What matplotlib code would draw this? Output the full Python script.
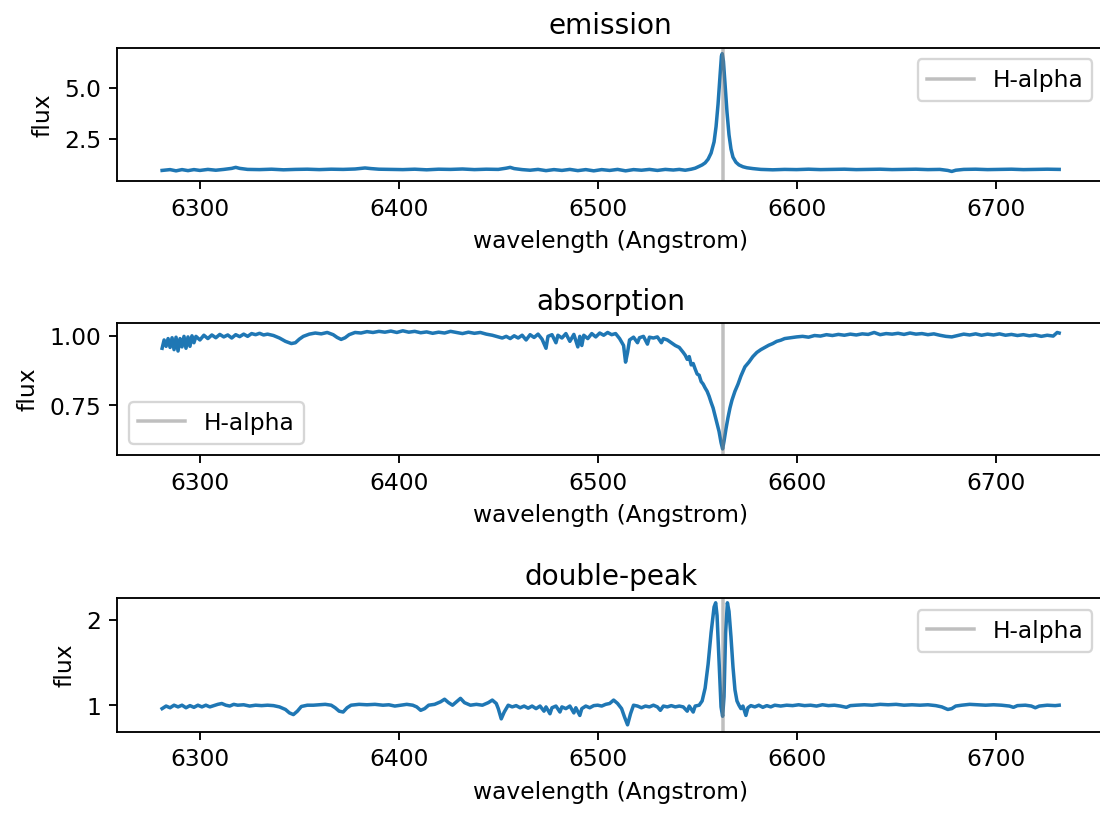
import numpy as np
import matplotlib
matplotlib.use("Agg")
import matplotlib.pyplot as plt

# H-alpha rest wavelength
halpha = 6562.8

# emission spectrum (wavelength in Angstrom, normalised flux)
wave_em = [6281, 6285, 6288, 6291, 6294, 6297, 6300, 6304, 6308, 6312, 6316, 6318, 6320, 6324,
           6330, 6336, 6342, 6348, 6354, 6360, 6366, 6372, 6378, 6383, 6386, 6390, 6396, 6402,
           6408, 6414, 6420, 6426, 6432, 6438, 6444, 6450, 6454, 6456, 6458, 6462, 6466, 6470,
           6474, 6478, 6482, 6486, 6490, 6494, 6498, 6502, 6506, 6510, 6514, 6518, 6522, 6526,
           6530, 6534, 6538, 6541, 6544, 6547, 6549, 6551, 6552.5, 6554, 6555.5, 6557, 6558.5,
           6559.5, 6560.5, 6561.5, 6562.2, 6562.6, 6563.2, 6564, 6565, 6566, 6567, 6568, 6569.5,
           6571, 6573, 6575, 6578, 6582, 6588, 6594, 6600, 6606, 6612, 6618, 6624, 6630, 6636,
           6642, 6648, 6654, 6660, 6666, 6672, 6676, 6678, 6680, 6684, 6690, 6696, 6702, 6708,
           6714, 6720, 6726, 6732]
flux_em = [0.95, 0.99, 0.93, 0.99, 0.94, 0.99, 0.95, 1.00, 0.96, 1.00, 1.05, 1.10, 1.05, 1.00,
           0.99, 1.01, 0.98, 1.00, 1.01, 0.99, 1.01, 1.00, 1.02, 1.07, 1.04, 1.01, 1.00, 0.99,
           1.01, 0.98, 1.01, 1.00, 1.02, 0.99, 1.01, 1.00, 1.06, 1.10, 1.04, 0.99, 0.96, 1.00,
           0.94, 0.99, 0.95, 1.00, 0.94, 0.99, 0.93, 0.99, 0.95, 1.00, 0.93, 0.99, 0.96, 1.00,
           0.95, 1.00, 0.97, 1.00, 0.96, 1.01, 1.06, 1.15, 1.22, 1.32, 1.50, 1.80, 2.35,
           3.10, 4.20, 5.60, 6.55, 6.67, 6.30, 5.20, 3.80, 2.70, 2.00, 1.60, 1.35,
           1.22, 1.13, 1.08, 1.04, 1.00, 0.98, 1.00, 0.99, 1.01, 0.99, 1.00, 1.01, 0.99, 1.00,
           1.01, 0.99, 1.00, 1.01, 0.99, 1.00, 0.95, 0.90, 0.96, 1.00, 1.01, 0.99, 1.00, 1.01,
           0.99, 1.00, 1.01, 1.00]

# absorption spectrum
wave_abs = [6281, 6282, 6283, 6284, 6285, 6286, 6287, 6288, 6289, 6290, 6291, 6292, 6293, 6294,
            6295, 6296, 6297, 6298, 6300, 6302, 6304, 6306, 6308, 6310, 6312, 6314, 6316, 6318,
            6320, 6322, 6324, 6326, 6328, 6330, 6332, 6334, 6337, 6340, 6343, 6346, 6348, 6350,
            6352, 6355, 6358, 6361, 6364, 6367, 6369, 6371, 6373, 6375, 6378, 6381, 6384, 6387,
            6390, 6393, 6396, 6399, 6402, 6405, 6408, 6411, 6414, 6417, 6420, 6423, 6426, 6429,
            6432, 6435, 6438, 6441, 6444, 6447, 6450, 6452, 6454, 6456, 6458, 6460, 6462, 6464,
            6466, 6468, 6470, 6472, 6474, 6475, 6477, 6479, 6480, 6482, 6484, 6486, 6488, 6490,
            6491, 6492, 6493, 6495, 6497, 6499, 6501, 6503, 6505, 6507, 6509, 6511, 6513, 6514,
            6515, 6516, 6518, 6520, 6521, 6523, 6525, 6526, 6528, 6530, 6532, 6533, 6535, 6537,
            6539, 6541, 6543, 6544, 6545, 6546, 6547, 6548, 6549, 6550, 6551, 6552, 6553, 6554,
            6555, 6556, 6557, 6558, 6559, 6560, 6561, 6562, 6562.8, 6563.5, 6564.5, 6565.5,
            6566.5, 6567.5, 6569, 6570.5, 6572, 6573, 6574, 6576, 6578, 6580, 6582, 6584, 6586,
            6588, 6590, 6592, 6594, 6597, 6600, 6603, 6606, 6609, 6612, 6615, 6618, 6621, 6624,
            6627, 6630, 6633, 6636, 6639, 6642, 6645, 6648, 6651, 6654, 6657, 6660, 6663, 6666,
            6669, 6672, 6675, 6678, 6681, 6684, 6687, 6690, 6693, 6696, 6699, 6702, 6705, 6708,
            6711, 6714, 6717, 6720, 6723, 6726, 6729, 6731, 6732]
flux_abs = [0.955, 0.985, 0.962, 0.990, 0.958, 0.993, 0.950, 0.995, 0.945, 0.990, 0.960, 0.998,
            0.955, 0.996, 0.962, 1.000, 0.975, 0.998, 0.985, 1.002, 0.990, 1.003, 0.993, 1.005,
            0.996, 1.003, 0.992, 1.004, 0.997, 1.006, 0.998, 1.008, 1.004, 1.009, 1.003, 1.006,
            1.001, 0.992, 0.980, 0.972, 0.975, 0.988, 0.998, 1.006, 1.010, 1.007, 1.012, 1.004,
            0.994, 0.987, 0.993, 1.004, 1.012, 1.010, 1.015, 1.012, 1.016, 1.013, 1.017, 1.012,
            1.018, 1.013, 1.016, 1.011, 1.014, 1.009, 1.013, 1.010, 1.016, 1.012, 1.008, 1.013,
            1.009, 1.012, 1.006, 1.002, 0.996, 0.992, 0.998, 0.990, 1.000, 0.992, 1.002, 0.985,
            1.004, 0.994, 1.006, 0.988, 0.955, 0.998, 1.004, 0.975, 1.002, 0.992, 1.008, 0.980,
            1.005, 0.960, 0.998, 0.965, 1.002, 0.990, 1.008, 0.996, 1.010, 1.002, 1.012, 1.004,
            1.008, 0.990, 0.965, 0.905, 0.940, 0.985, 0.995, 0.975, 0.993, 0.998, 0.970, 0.995,
            0.992, 0.996, 0.975, 0.990, 0.985, 0.975, 0.965, 0.958, 0.940, 0.930, 0.915, 0.925,
            0.895, 0.900, 0.880, 0.862, 0.858, 0.835, 0.826, 0.812, 0.800, 0.782, 0.760, 0.740,
            0.712, 0.685, 0.655, 0.615, 0.592, 0.620, 0.665, 0.705, 0.740, 0.768, 0.800, 0.825,
            0.855, 0.872, 0.888, 0.905, 0.925, 0.940, 0.950, 0.958, 0.966, 0.972, 0.980, 0.984,
            0.990, 0.993, 0.996, 0.998, 0.995, 1.001, 0.999, 1.004, 1.001, 1.005, 1.002, 1.006,
            1.003, 1.007, 1.005, 1.012, 1.004, 1.008, 1.006, 1.009, 1.005, 1.010, 1.006, 1.008,
            1.004, 1.007, 1.002, 0.998, 0.996, 1.001, 1.006, 1.003, 1.007, 1.002, 1.006, 1.003,
            1.007, 1.002, 1.005, 1.001, 1.004, 1.000, 1.003, 0.998, 1.002, 0.999, 1.012, 1.010]

# double-peak spectrum
wave_dp = [6281, 6283, 6285, 6287, 6289, 6291, 6293, 6295, 6297, 6299, 6301, 6303, 6305, 6307,
           6309, 6311, 6313, 6315, 6317, 6319, 6322, 6325, 6328, 6331, 6334, 6337, 6340, 6343,
           6345, 6347, 6349, 6351, 6354, 6357, 6360, 6363, 6366, 6368, 6370, 6372, 6374, 6376,
           6380, 6384, 6388, 6392, 6395, 6398, 6401, 6404, 6407, 6409, 6411, 6413, 6415, 6418,
           6421, 6423, 6425, 6427, 6429, 6431, 6433, 6436, 6439, 6442, 6445, 6447, 6449, 6450,
           6451.5, 6453, 6455, 6457, 6459, 6461, 6463, 6465, 6467, 6469, 6471, 6473, 6474, 6476,
           6477, 6479, 6481, 6482, 6484, 6486, 6488, 6489, 6491, 6492, 6494, 6496, 6498, 6500,
           6502, 6504, 6506, 6508, 6510, 6512, 6513.5, 6515, 6516.5, 6518, 6520, 6522, 6524,
           6526, 6528, 6530, 6531.5, 6533, 6535, 6537, 6539, 6541, 6543, 6545, 6546, 6548, 6549,
           6551, 6552.5, 6554, 6555.5, 6557, 6558.5, 6559.3, 6560, 6561, 6562, 6562.8, 6563.5,
           6564.3, 6565.2, 6566, 6567, 6568, 6569, 6570, 6571, 6572, 6573, 6574.5, 6575.5, 6577,
           6579, 6581, 6583, 6585, 6587, 6589, 6592, 6595, 6598, 6601, 6604, 6607, 6610, 6613,
           6616, 6619, 6622, 6625, 6627, 6630, 6634, 6638, 6642, 6646, 6650, 6654, 6658, 6662,
           6666, 6670, 6673, 6676, 6678, 6680, 6683, 6687, 6691, 6695, 6699, 6703, 6707, 6709,
           6711, 6715, 6718, 6720, 6722, 6726, 6730, 6732]
flux_dp = [0.96, 0.99, 0.97, 1.00, 0.98, 1.00, 0.97, 0.995, 0.975, 1.00, 0.98, 1.00, 0.98, 0.995,
           1.01, 1.02, 1.00, 0.99, 1.01, 1.00, 1.005, 0.99, 1.00, 0.995, 1.00, 0.995, 0.98, 0.95,
           0.91, 0.89, 0.93, 0.985, 1.00, 1.00, 1.005, 1.01, 1.00, 0.97, 0.93, 0.92, 0.97, 1.00,
           1.01, 1.005, 1.01, 1.00, 1.005, 0.99, 1.00, 1.01, 1.00, 0.98, 0.94, 0.96, 1.00, 1.01,
           1.04, 1.07, 1.03, 1.00, 1.04, 1.08, 1.03, 1.00, 1.01, 1.00, 1.03, 1.06, 1.02, 0.96,
           0.84, 0.92, 1.00, 0.98, 0.995, 0.97, 0.99, 0.965, 0.99, 0.96, 0.99, 0.93, 0.98, 0.90,
           0.97, 0.99, 0.92, 0.98, 0.96, 0.99, 0.91, 0.97, 0.88, 0.96, 0.99, 0.97, 0.995, 1.00,
           0.99, 1.01, 1.02, 1.06, 1.02, 0.96, 0.86, 0.77, 0.90, 1.00, 0.99, 0.97, 0.99,
           0.98, 1.00, 0.98, 0.94, 0.99, 0.98, 0.995, 0.98, 0.99, 0.98, 0.93, 0.99, 0.92, 0.99,
           1.00, 1.05, 1.20, 1.48, 1.85, 2.15, 2.20, 2.05, 1.50, 0.98, 0.87, 1.10,
           1.85, 2.20, 2.10, 1.80, 1.45, 1.18, 1.05, 1.00, 0.96, 0.99, 0.88, 0.97, 0.995,
           0.98, 1.00, 0.975, 0.995, 0.98, 1.00, 0.99, 1.00, 0.995, 1.005, 0.995, 1.00, 0.99, 1.005,
           0.995, 1.00, 0.99, 0.975, 0.995, 1.00, 1.005, 1.00, 1.01, 1.005, 1.01, 1.00, 1.005, 1.00,
           1.005, 0.995, 0.98, 0.95, 0.96, 0.99, 1.00, 1.01, 1.005, 1.00, 1.005, 1.00, 0.99, 0.975,
           0.995, 1.00, 0.99, 0.97, 0.99, 1.00, 0.995, 1.00]

titles = ["emission", "absorption", "double-peak"]
waves = [wave_em, wave_abs, wave_dp]
fluxes = [flux_em, flux_abs, flux_dp]
ylims = [(0.42, 6.96), (0.569, 1.046), (0.69, 2.254)]
yticks = [[2.5, 5.0], [0.75, 1.00], [1, 2]]
legend_loc = ["upper right", "lower left", "upper right"]
# axes boxes in figure fractions (left, bottom, width, height)
boxes = [[0.1066, 0.7769, 0.8970, 0.1639],
         [0.1066, 0.4404, 0.8970, 0.1624],
         [0.1066, 0.1011, 0.8970, 0.1639]]

fig, axes = plt.subplots(3, 1, figsize=(6.548, 4.848), dpi=168)

for i, ax in enumerate(axes):
    ax.set_position(boxes[i])
    ax.plot(waves[i], fluxes[i])
    ax.axvline(halpha, color='gray', alpha=0.5, label='H-alpha')
    ax.set_ylim(ylims[i])
    ax.set_yticks(yticks[i])
    ax.set_title(titles[i])
    ax.set_xlabel('wavelength (Angstrom)')
    ax.set_ylabel('flux')
    ax.legend(loc=legend_loc[i])

axes[0].yaxis.set_major_formatter(matplotlib.ticker.FormatStrFormatter('%.1f'))
axes[1].yaxis.set_major_formatter(matplotlib.ticker.FormatStrFormatter('%.2f'))

fig.savefig('out.png', dpi=168)
